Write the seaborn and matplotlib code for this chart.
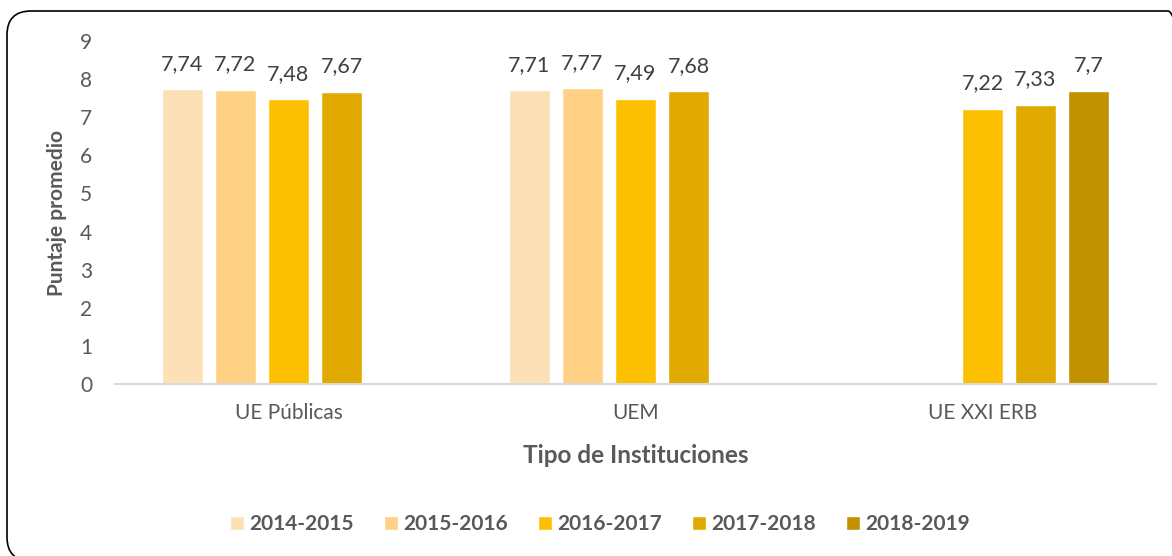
import numpy as np
import pandas as pd
import matplotlib
matplotlib.use("Agg")
import matplotlib.pyplot as plt
import matplotlib.patches as mpatches
import seaborn as sns

# ---- data ----
categories = ["UE Públicas", "UEM", "UE XXI ERB"]
periods = ["2014-2015", "2015-2016", "2016-2017", "2017-2018", "2018-2019"]
s2014_2015 = [7.74, 7.71, np.nan]
s2015_2016 = [7.72, 7.77, np.nan]
s2016_2017 = [7.48, 7.49, 7.22]
s2017_2018 = [7.67, 7.68, 7.33]
s2018_2019 = [np.nan, np.nan, 7.70]
colors = ["#FDE0B5", "#FED184", "#FDC000", "#E1AA00", "#C29100"]
yticks = list(range(0, 10))

series = [s2014_2015, s2015_2016, s2016_2017, s2017_2018, s2018_2019]
rows = []
for p, vals in zip(periods, series):
    for c, v in zip(categories, vals):
        rows.append({"Tipo": c, "Periodo": p, "Puntaje": v})
df = pd.DataFrame(rows).dropna()

sns.set_theme(style="white")
plt.rcParams["font.family"] = ["Lato", "DejaVu Sans"]

W, H = 1172, 556
fig = plt.figure(figsize=(W / 100, H / 100), dpi=100)
ax = fig.add_axes([115 / W, 1 - 384 / H, (1156 - 115) / W, (384 - 41) / H])

sns.barplot(data=df, x="Tipo", y="Puntaje", hue="Periodo",
            order=categories, hue_order=periods, palette=colors,
            saturation=1, width=0.764, gap=0.21, errorbar=None,
            ax=ax, legend=True)

ax.set_xlim(-0.5, 2.5)
ax.set_ylim(0, 9)
ax.set_yticks(yticks)
ax.set_yticklabels([str(t) for t in yticks])

txt = "#595959"
for c in ax.containers:
    ax.bar_label(c, fmt=lambda v: f"{v:g}".replace(".", ","),
                 padding=11, fontsize=15.5, color="#404040")

ax.tick_params(axis="y", length=0, pad=16.5, labelsize=15, labelcolor=txt)
ax.tick_params(axis="x", length=0, pad=14, labelsize=15, labelcolor=txt)
for s in ["top", "right", "left"]:
    ax.spines[s].set_visible(False)
ax.spines["bottom"].set_color("#D9D9D9")
ax.spines["bottom"].set_linewidth(1.5)

ax.set_xlabel("Tipo de Instituciones", fontsize=17.5, fontweight="bold",
              color=txt, labelpad=15)
ax.set_ylabel("Puntaje promedio", fontsize=15, fontweight="bold",
              color=txt, labelpad=9)

handles, labels = ax.get_legend_handles_labels()
if ax.legend_:
    ax.legend_.remove()
leg = fig.legend(handles, labels, loc="center",
                 bbox_to_anchor=(600 / W, 1 - 524 / H), ncol=5, frameon=False,
                 prop={"size": 15, "weight": "bold"},
                 handlelength=0.67, handleheight=0.67, handletextpad=0.25,
                 columnspacing=1.45)
for t in leg.get_texts():
    t.set_color(txt)

# rounded chart-area border (in inches)
border = mpatches.FancyBboxPatch((0.07, -0.05), 11.92 - 0.07, (H - 11) / 100 + 0.05,
                                 boxstyle="round,pad=0,rounding_size=0.24",
                                 transform=fig.dpi_scale_trans, fill=False,
                                 edgecolor="black", linewidth=1.2)
fig.add_artist(border)

fig.savefig("out.png", dpi=100)
